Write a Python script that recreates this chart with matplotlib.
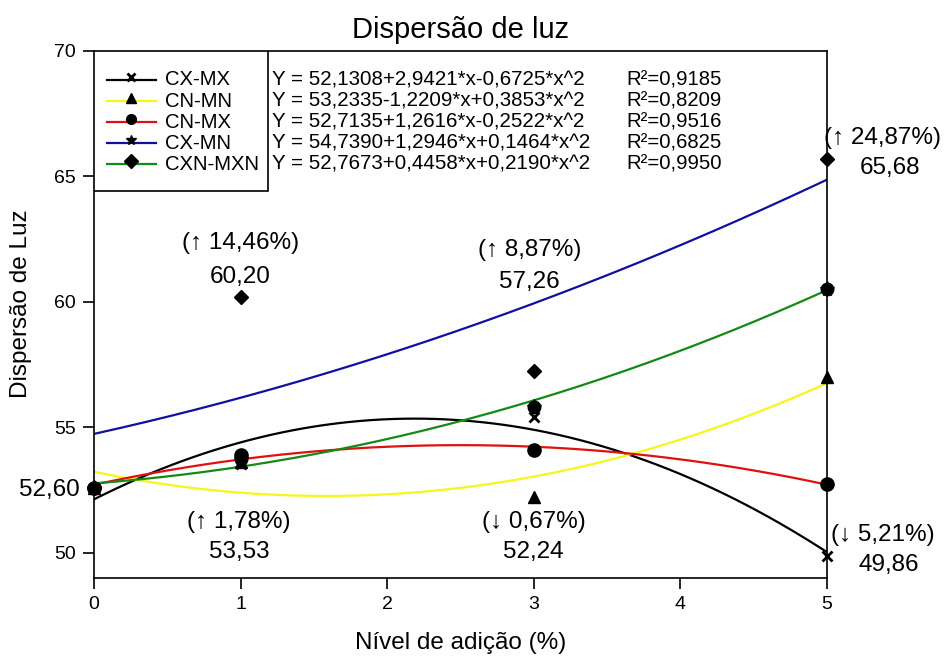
import numpy as np
import matplotlib
matplotlib.use("Agg")
from matplotlib import pyplot as plt
from matplotlib.patches import Rectangle

plt.rcParams['font.family'] = ['Liberation Sans', 'DejaVu Sans']

# addition level (%)
levels = [0, 1, 3, 5]

# measured light dispersion, per treatment
cx_mx = [52.60, 53.53, 55.42, 49.86]
cn_mn = [52.60, 53.60, 52.24, 57.01]
cn_mx = [52.60, 53.90, 54.10, 52.75]
cx_mn = [52.60, 60.20, 57.26, 65.68]
cxn_mxn = [52.60, 53.75, 55.82, 60.50]

names = ["CX-MX", "CN-MN", "CN-MX", "CX-MN", "CXN-MXN"]
# quadratic fit coefficients (a, b, c) for y = a + b*x + c*x^2
coefs = [
    (52.1308, 2.9421, -0.6725),
    (53.2335, -1.2209, 0.3853),
    (52.7135, 1.2616, -0.2522),
    (54.7390, 1.2946, 0.1464),
    (52.7673, 0.4458, 0.2190),
]
equations = [
    "Y = 52,1308+2,9421*x-0,6725*x^2",
    "Y = 53,2335-1,2209*x+0,3853*x^2",
    "Y = 52,7135+1,2616*x-0,2522*x^2",
    "Y = 54,7390+1,2946*x+0,1464*x^2",
    "Y = 52,7673+0,4458*x+0,2190*x^2",
]
r2 = ["R²=0,9185", "R²=0,8209", "R²=0,9516", "R²=0,6825", "R²=0,9950"]

colors = ["#000000", "#f6f61a", "#e01010", "#1010a0", "#138a13"]
legend_markers = ["x", "^", "o", "*", "D"]

fig = plt.figure(figsize=(9.5, 6.62), dpi=100)
ax = fig.add_axes([0.0989, 0.127, 0.7716, 0.796])

xs = np.linspace(0, 5, 200)
for (a, b, c), col in zip(coefs, colors):
    ax.plot(xs, a + b * xs + c * xs ** 2, color=col, lw=1.6, zorder=2)

pt = dict(color="black", linestyle="none", clip_on=False)
ax.plot(levels, cx_mn, marker="D", ms=7, zorder=4, **pt)
ax.plot(levels, cx_mx, marker="x", ms=7, mew=2, zorder=4, **pt)
ax.plot(levels, cn_mn, marker="^", ms=8, zorder=4, **pt)
ax.plot(levels, cxn_mxn, marker="*", ms=11, zorder=5, **pt)
ax.plot(levels, cxn_mxn, marker="o", ms=9, zorder=5, **pt)
ax.plot(levels, cn_mx, marker="o", ms=9.5, zorder=6, **pt)

ax.set_xlim(0, 5)
ax.set_ylim(49, 70)
ax.set_xticks(range(6))
ax.set_yticks([50, 55, 60, 65, 70])
ax.tick_params(direction="out", length=8, width=1.2, labelsize=14, pad=5,
               top=False, right=False)
for s in ax.spines.values():
    s.set_linewidth(1.2)

ax.set_title("Dispersão de luz", fontsize=21, pad=9)
ax.set_xlabel("Nível de adição (%)", fontsize=17.5)
ax.set_ylabel("Dispersão de Luz", fontsize=17.5)
ax.xaxis.set_label_coords(0.5, -0.102)
ax.yaxis.set_label_coords(-0.085, 0.52)

# legend box with equations
ax.add_patch(Rectangle((0, 0.734), 0.237, 0.266, transform=ax.transAxes,
                       fill=True, facecolor="white", edgecolor="black",
                       lw=1.2, zorder=7))
for i in range(5):
    yy = 0.945 - 0.040 * i
    ax.plot([0.018, 0.085], [yy, yy], color=colors[i], lw=1.6,
            transform=ax.transAxes, zorder=8)
    ax.plot([0.051], [yy + 0.006], marker=legend_markers[i], color="black",
            ms=7 if legend_markers[i] != "x" else 6, mew=2 if i == 0 else 1,
            transform=ax.transAxes, zorder=9)
    ax.text(0.097, yy, names[i], transform=ax.transAxes, fontsize=14.6,
            va="center", zorder=9)
    ax.text(0.243, yy, equations[i], transform=ax.transAxes, fontsize=14.8,
            va="center", zorder=9)
    ax.text(0.727, yy, r2[i], transform=ax.transAxes, fontsize=14.6,
            va="center", zorder=9)

ann = dict(fontsize=17.5, ha="center", va="center", clip_on=False)
ax.text(-0.095, 52.51, "52,60", **{**ann, "ha": "right"})
ax.text(1.0, 62.35, "(↑ 14,46%)", **ann)
ax.text(1.0, 61.0, "60,20", **ann)
ax.text(2.97, 62.07, "(↑ 8,87%)", **ann)
ax.text(2.97, 60.8, "57,26", **ann)
ax.text(0.99, 51.24, "(↑ 1,78%)", **ann)
ax.text(0.99, 50.04, "53,53", **ann)
ax.text(3.0, 51.24, "(↓ 0,67%)", **ann)
ax.text(3.0, 50.04, "52,24", **ann)
ax.text(5.03, 50.72, "(↓ 5,21%)", **{**ann, "ha": "left"})
ax.text(5.42, 49.52, "49,86", **ann)
ax.text(4.98, 66.53, "(↑ 24,87%)", **{**ann, "ha": "left"})
ax.text(5.43, 65.34, "65,68", **ann)

fig.savefig("out.png", dpi=100)
